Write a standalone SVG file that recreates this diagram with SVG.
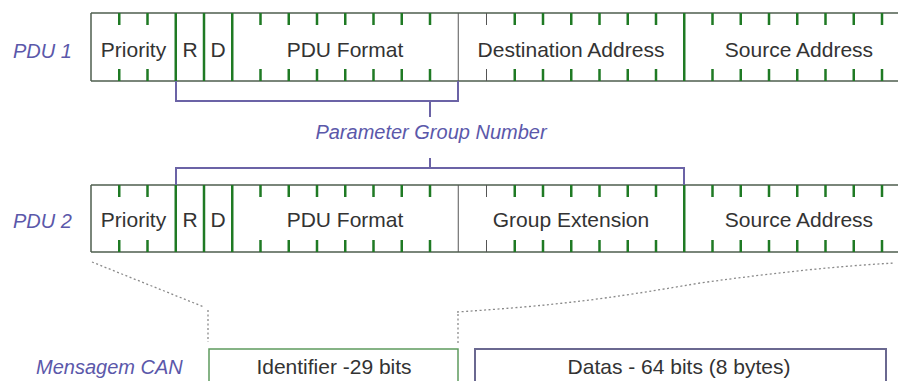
<svg xmlns="http://www.w3.org/2000/svg" width="898" height="381" viewBox="0 0 898 381">
  <style>
    .edge { stroke: #4f5f4f; stroke-width: 1.5; fill: none; }
    .div { stroke: #1f7a24; stroke-width: 2.5; fill: none; }
    .tick { stroke: #1f7a24; stroke-width: 2.5; fill: none; }
    .thin { stroke: #555; stroke-width: 1; fill: none; }
    .ft { font-family: "Liberation Sans", Arial, sans-serif; font-size: 21px; fill: #333; text-anchor: middle; }
    .lbl { font-family: "Liberation Sans", Arial, sans-serif; font-style: italic; font-size: 20px; fill: #5b58aa; }
    .br { stroke: #6b63a6; stroke-width: 2; fill: none; }
    .dot { stroke: #8a8a8a; stroke-width: 1.3; stroke-dasharray: 2 2.5; fill: none; }
  </style>
  <rect width="898" height="381" fill="#fff"/>

  <!-- Row labels -->
  <g id="label-pdu1"><text class="lbl" x="13" y="58">PDU 1</text></g>
  <g id="label-pdu2"><text class="lbl" x="13" y="228">PDU 2</text></g>
  <g id="label-can"><text class="lbl" x="36" y="374" font-size="21">Mensagem CAN</text></g>

  <!-- PDU 1 row: 29 bits, 28.25 px each, from x=91 -->
  <g id="pdu1">
    <path class="edge" d="M91 13H898M91 81H898M91 13V81"/>
    <g id="pdu1-priority">
      <path class="tick" d="M119.25 13v12M147.5 13v12M119.25 81v-12M147.5 81v-12"/>
      <path class="div" d="M175.75 13V81"/>
      <text class="ft" x="133.5" y="57">Priority</text>
    </g>
    <g id="pdu1-r">
      <path class="div" d="M204 13V81"/>
      <text class="ft" x="190" y="57">R</text>
    </g>
    <g id="pdu1-d">
      <path class="div" d="M232.25 13V81"/>
      <text class="ft" x="218" y="57">D</text>
    </g>
    <g id="pdu1-pf">
      <path class="tick" d="M260.5 13v12M288.75 13v12M317 13v12M345.25 13v12M373.5 13v12M401.75 13v12M430 13v12M260.5 81v-12M288.75 81v-12M317 81v-12M345.25 81v-12M373.5 81v-12M401.75 81v-12M430 81v-12"/>
      <path class="thin" d="M458.25 13V81"/>
      <text class="ft" x="345" y="57">PDU Format</text>
    </g>
    <g id="pdu1-da">
      <path class="thin" d="M486.5 13v12M486.5 81v-12"/>
      <path class="tick" d="M514.75 13v12M543 13v12M571.25 13v12M599.5 13v12M627.75 13v12M656 13v12M514.75 81v-12M543 81v-12M571.25 81v-12M599.5 81v-12M627.75 81v-12M656 81v-12"/>
      <path class="div" d="M684.25 13V81"/>
      <text class="ft" x="571" y="57">Destination Address</text>
    </g>
    <g id="pdu1-sa">
      <path class="tick" d="M712.5 13v12M740.75 13v12M769 13v12M797.25 13v12M825.5 13v12M853.75 13v12M882 13v12M712.5 81v-12M740.75 81v-12M769 81v-12M797.25 81v-12M825.5 81v-12M853.75 81v-12M882 81v-12"/>
      <text class="ft" x="799" y="57">Source Address</text>
    </g>
  </g>

  <!-- PDU 2 row -->
  <g id="pdu2">
    <path class="edge" d="M91 185H898M91 252H898M91 185V252"/>
    <g id="pdu2-priority">
      <path class="tick" d="M119.25 185v12M147.5 185v12M119.25 252v-12M147.5 252v-12"/>
      <path class="div" d="M175.75 185V252"/>
      <text class="ft" x="133.5" y="227">Priority</text>
    </g>
    <g id="pdu2-r">
      <path class="div" d="M204 185V252"/>
      <text class="ft" x="190" y="227">R</text>
    </g>
    <g id="pdu2-d">
      <path class="div" d="M232.25 185V252"/>
      <text class="ft" x="218" y="227">D</text>
    </g>
    <g id="pdu2-pf">
      <path class="tick" d="M260.5 185v12M288.75 185v12M317 185v12M345.25 185v12M373.5 185v12M401.75 185v12M430 185v12M260.5 252v-12M288.75 252v-12M317 252v-12M345.25 252v-12M373.5 252v-12M401.75 252v-12M430 252v-12"/>
      <path class="thin" d="M458.25 185V252"/>
      <text class="ft" x="345" y="227">PDU Format</text>
    </g>
    <g id="pdu2-ge">
      <path class="thin" d="M486.5 185v12M486.5 252v-12"/>
      <path class="tick" d="M514.75 185v12M543 185v12M571.25 185v12M599.5 185v12M627.75 185v12M656 185v12M514.75 252v-12M543 252v-12M571.25 252v-12M599.5 252v-12M627.75 252v-12M656 252v-12"/>
      <path class="div" d="M684.25 185V252"/>
      <text class="ft" x="571" y="227">Group Extension</text>
    </g>
    <g id="pdu2-sa">
      <path class="tick" d="M712.5 185v12M740.75 185v12M769 185v12M797.25 185v12M825.5 185v12M853.75 185v12M882 185v12M712.5 252v-12M740.75 252v-12M769 252v-12M797.25 252v-12M825.5 252v-12M853.75 252v-12M882 252v-12"/>
      <text class="ft" x="799" y="227">Source Address</text>
    </g>
  </g>

  <!-- Parameter Group Number label -->
  <g id="pgn">
    <text class="lbl" x="431" y="139" font-size="21" text-anchor="middle">Parameter Group Number</text>
  </g>

  <!-- CAN message boxes -->
  <g id="can-identifier">
    <rect x="209" y="349" width="249" height="40" fill="none" stroke="#5d9a5d" stroke-width="1.5"/>
    <text class="ft" x="334" y="374">Identifier -29 bits</text>
  </g>
  <g id="can-data">
    <rect x="475" y="349" width="411" height="40" fill="none" stroke="#6a6890" stroke-width="2"/>
    <text class="ft" x="679" y="374">Datas - 64 bits (8 bytes)</text>
  </g>

  <!-- Connectors -->
  <g id="connectors">
    <path class="br" d="M176 81V101H458V81M430 101V117"/>
    <path class="br" d="M430 158V168M176 185V168H684V185"/>
    <path class="dot" d="M92 262L204 307M208 310V342"/>
    <path class="dot" d="M457 312C560 305 600 300 700 283C780 272 840 266 895 263M458 314V345"/>
  </g>
</svg>
